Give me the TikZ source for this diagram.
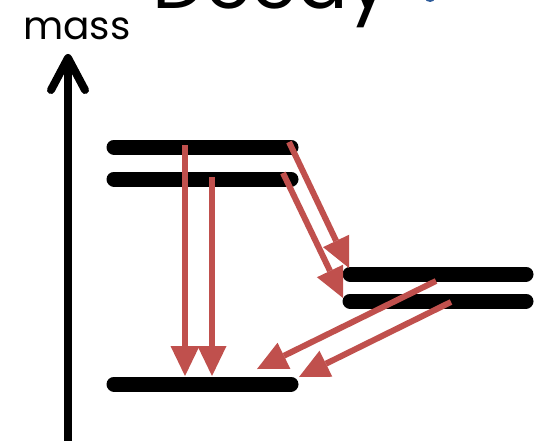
\documentclass[tikz,border=0pt]{standalone}
\usepackage{fontspec}
\setmainfont{Poppins}
\usetikzlibrary{arrows.meta}
\definecolor{decayred}{HTML}{C0504D}
\definecolor{titleblue}{HTML}{2E5C9A}
\begin{document}
\begin{tikzpicture}[x=1pt,y=-1pt,
  level/.style={line width=15pt, line cap=round},
  decayarrow/.style={decayred, line width=6pt, -{Triangle[length=30pt,width=29pt,line width=0pt]}},
  axisline/.style={line width=8pt, -{Straight Barb[length=32pt,width=34pt,line cap=round,line join=round]}},
  lbl/.style={anchor=base west, inner sep=0pt}]
\useasboundingbox (0,0) rectangle (543,441);
\clip (0,0) rectangle (543,441);
% cut-off title
\node[lbl, font=\fontsize{75}{75}\selectfont] (title) at (152,9) {Decay};
\fill[titleblue] (430,-2) ellipse (5pt and 4pt);
% axis
\node[lbl, font=\fontsize{39}{39}\selectfont] (mass) at (23,40) {mass};
\coordinate (axb) at (68,450);
\coordinate (axt) at (68,54);
\draw[axisline] (axb) -- (axt);
% levels
\coordinate (aL) at (114,147); \coordinate (aR) at (291,147);
\coordinate (bL) at (114,179); \coordinate (bR) at (291,179);
\coordinate (cL) at (350,274); \coordinate (cR) at (526,274);
\coordinate (dL) at (350,301); \coordinate (dR) at (526,301);
\coordinate (eL) at (114,384); \coordinate (eR) at (291,384);
\draw[level] (aL) -- (aR);
\draw[level] (bL) -- (bR);
\draw[level] (cL) -- (cR);
\draw[level] (dL) -- (dR);
\draw[level] (eL) -- (eR);
% arrow ends
\coordinate (v1s) at (185,145); \coordinate (v1e) at (185,376);
\coordinate (v2s) at (212,177); \coordinate (v2e) at (212,376);
\coordinate (d1s) at (289,142); \coordinate (d1e) at (349,268);
\coordinate (d2s) at (283,173); \coordinate (d2e) at (343,298);
\coordinate (d3s) at (436,281); \coordinate (d3e) at (257,369);
\coordinate (d4s) at (451,302); \coordinate (d4e) at (299,377);
\draw[decayarrow] (v1s) -- (v1e);
\draw[decayarrow] (v2s) -- (v2e);
\draw[decayarrow] (d1s) -- (d1e);
\draw[decayarrow] (d2s) -- (d2e);
\draw[decayarrow] (d3s) -- (d3e);
\draw[decayarrow] (d4s) -- (d4e);
\end{tikzpicture}
\end{document}
